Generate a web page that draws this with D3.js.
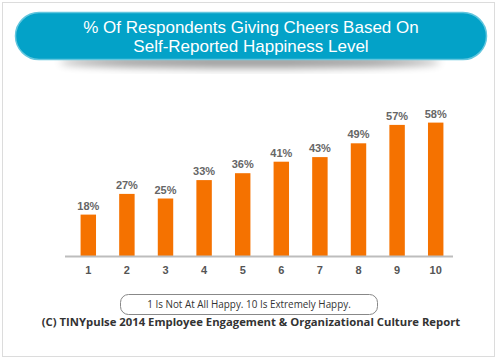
<!DOCTYPE html>
<html><head><meta charset="utf-8">
<script src="https://cdn.jsdelivr.net/npm/d3@7"></script>
<style>html,body{margin:0;padding:0;background:#fff;}svg{display:block;}</style>
</head><body>
<script>
const categories = ["1","2","3","4","5","6","7","8","9","10"];
const values = [18,27,25,33,36,41,43,49,57,58];
const titleLines = ["% Of Respondents Giving Cheers Based On","Self-Reported Happiness Level"];
const noteText = "1 Is Not At All Happy. 10 Is Extremely Happy.";
const footerText = "(C) TINYpulse 2014 Employee Engagement & Organizational Culture Report";

const W = 500, H = 359;
const svg = d3.select("body").append("svg").attr("width", W).attr("height", H);
const defs = svg.append("defs");
const f = defs.append("filter").attr("id","sh").attr("x","-20%").attr("y","-50%").attr("width","140%").attr("height","200%");
f.append("feGaussianBlur").attr("stdDeviation",4);

svg.append("rect").attr("x",2.5).attr("y",2.5).attr("width",492).attr("height",354)
  .attr("fill","#fff").attr("stroke","#dcdcdc").attr("stroke-width",1);

// banner shadow
svg.append("ellipse").attr("cx",250).attr("cy",62).attr("rx",190).attr("ry",6)
  .attr("fill","#000").attr("opacity",0.4).attr("filter","url(#sh)");
// banner
svg.append("rect").attr("x",15.5).attr("y",12.5).attr("width",471).attr("height",47).attr("rx",23.5)
  .attr("fill","#03a2c8").attr("stroke","#62c6de").attr("stroke-width",1.5);
svg.append("text").attr("x",251).attr("text-anchor","middle")
  .attr("font-family","Liberation Sans, Arial, sans-serif").attr("font-size",17).attr("fill","#fff")
  .selectAll("tspan").data(titleLines).join("tspan")
  .attr("x",251).attr("y",(d,i)=>33+i*19).text(d=>d);

// chart
const x = d3.scaleBand().domain(categories).range([69,455]).paddingInner(0.6).paddingOuter(0.3);
const y = d3.scaleLinear().domain([0,100]).range([256,26]);

svg.append("g").selectAll("rect").data(values).join("rect")
  .attr("x",(d,i)=>x(categories[i])).attr("width",x.bandwidth())
  .attr("y",d=>y(d)).attr("height",d=>y(0)-y(d)).attr("fill","#f57200");

svg.append("g").selectAll("text").data(values).join("text")
  .attr("x",(d,i)=>x(categories[i])+x.bandwidth()/2).attr("y",d=>y(d)-5)
  .attr("text-anchor","middle").attr("font-family","Liberation Sans, Arial, sans-serif")
  .attr("font-weight","bold").attr("font-size",11).attr("fill","#666").text(d=>d+"%");

const ax = svg.append("g").attr("transform",`translate(0,${y(0)})`)
  .call(d3.axisBottom(x).tickSize(0).tickPadding(10));
ax.select(".domain").remove();
ax.append("line").attr("x1",65).attr("x2",453).attr("y1",0.5).attr("y2",0.5)
  .attr("stroke","#bdbdbd").attr("stroke-width",2);
ax.selectAll("text").attr("font-family","Liberation Sans, Arial, sans-serif")
  .attr("font-weight","bold").attr("font-size",11).attr("fill","#555");

// note box
svg.append("rect").attr("x",120.5).attr("y",294.5).attr("width",257).attr("height",20).attr("rx",8)
  .attr("fill","#fff").attr("stroke","#888").attr("stroke-width",1);
svg.append("text").attr("x",249).attr("y",308).attr("text-anchor","middle")
  .attr("font-family","Open Sans, sans-serif").attr("font-size",9.9).attr("fill","#333").text(noteText);

svg.append("text").attr("x",251).attr("y",325.5).attr("text-anchor","middle")
  .attr("font-family","Open Sans, sans-serif").attr("font-weight","bold").attr("font-size",11.3)
  .attr("fill","#333").text(footerText);
</script>
</body></html>
